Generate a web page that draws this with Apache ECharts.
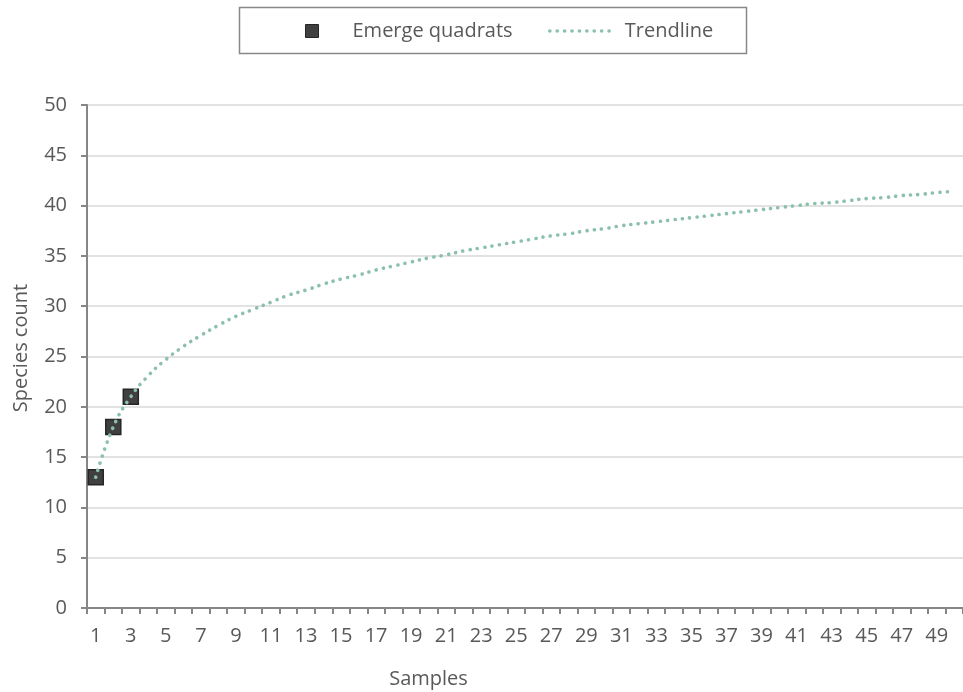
<!DOCTYPE html>
<html><head><meta charset="utf-8">
<script src="https://cdn.jsdelivr.net/npm/echarts@6/dist/echarts.min.js"></script>
<style>html,body{margin:0;padding:0;background:#fff}#c{width:963px;height:692px}</style>
</head><body><div id="c"></div>
<script>
const samples = ['1','2','3','4','5','6','7','8','9','10','11','12','13','14','15','16','17','18','19','20','21','22','23','24','25','26','27','28','29','30','31','32','33','34','35','36','37','38','39','40','41','42','43','44','45','46','47','48','49','50'];
const emergeQuadrats = [13, 18, 21];
const trendline = [13.0,18.0,21.0,23.1,24.7,26.0,27.1,28.1,29.0,29.7,30.4,31.1,31.6,32.2,32.7,33.1,33.6,34.0,34.4,34.8,35.1,35.5,35.8,36.1,36.4,36.7,37.0,37.2,37.5,37.7,38.0,38.2,38.4,38.6,38.8,39.0,39.2,39.4,39.6,39.8,40.0,40.2,40.3,40.5,40.7,40.8,41.0,41.1,41.3,41.4];
const seriesNames = ['Emerge quadrats', 'Trendline'];
const axisTitles = { x: 'Samples', y: 'Species count' };

const FONT = 'Open Sans';
const TXT = '#595959';
const TREND = '#8cc0ab';

const chart = echarts.init(document.getElementById('c'), null, { renderer: 'canvas' });
chart.setOption({
  backgroundColor: '#ffffff',
  animation: false,
  textStyle: { fontFamily: FONT, color: TXT },
  grid: { left: 87, top: 105, bottom: 84, right: -13, containLabel: false },
  legend: [
    {
      data: [seriesNames[0]], left: 305, top: 21, itemWidth: 13, itemHeight: 13,
      padding: 0, icon: 'rect',
      itemStyle: { color: '#404040', borderColor: '#262626', borderWidth: 1 },
      textStyle: { fontFamily: FONT, fontSize: 20, color: TXT, padding: [0, 0, 0, 29] }
    },
    {
      data: [seriesNames[1]], left: 548, top: 21, itemWidth: 64, itemHeight: 13,
      padding: 0,
      itemStyle: { opacity: 0, color: 'rgba(0,0,0,0)', borderWidth: 0 },
      lineStyle: { color: TREND, width: 3.6, type: [0.1, 7.3], cap: 'round', opacity: 1 },
      textStyle: { fontFamily: FONT, fontSize: 20, color: TXT, padding: [0, 0, 0, 6] }
    }
  ],
  graphic: [
    { type: 'rect', shape: { x: 239.5, y: 7.5, width: 507, height: 46 },
      style: { fill: 'none', stroke: '#888888', lineWidth: 1.5 }, silent: true },
    { type: 'text', x: 428.5, y: 679, style: { text: axisTitles.x, fontFamily: FONT, fontSize: 20, fill: TXT, align: 'center', verticalAlign: 'middle' } },
    { type: 'text', x: 21.5, y: 348, rotation: Math.PI / 2, style: { text: axisTitles.y, fontFamily: FONT, fontSize: 20, fill: TXT, align: 'center', verticalAlign: 'middle' } }
  ],
  xAxis: {
    type: 'category', data: samples, boundaryGap: true,
    axisLine: { lineStyle: { color: '#868686', width: 2 } },
    axisTick: { show: true, interval: 0, length: 6, lineStyle: { color: '#868686', width: 2 } },
    axisLabel: { interval: 1, margin: 18, fontFamily: FONT, fontSize: 20, color: TXT },
    splitLine: { show: false }
  },
  yAxis: {
    type: 'value', min: 0, max: 50, interval: 5,
    axisLine: { show: true, lineStyle: { color: '#868686', width: 2 } },
    axisTick: { show: true, length: 6, lineStyle: { color: '#868686', width: 2 } },
    axisLabel: { margin: 20, fontFamily: FONT, fontSize: 20, color: TXT },
    splitLine: { show: true, lineStyle: { color: '#d9d9d9', width: 1.5 } }
  },
  series: [
    {
      name: seriesNames[0], type: 'scatter', data: emergeQuadrats, symbol: 'rect', symbolSize: 15, z: 2,
      itemStyle: { color: '#404040', borderColor: '#262626', borderWidth: 1.5, opacity: 1 }
    },
    {
      name: seriesNames[1], type: 'line', data: trendline, symbol: 'none', smooth: true, z: 3,
      lineStyle: { color: TREND, width: 3.6, type: [0.1, 7.3], cap: 'round' },
      itemStyle: { color: TREND }
    }
  ]
});
</script></body></html>
